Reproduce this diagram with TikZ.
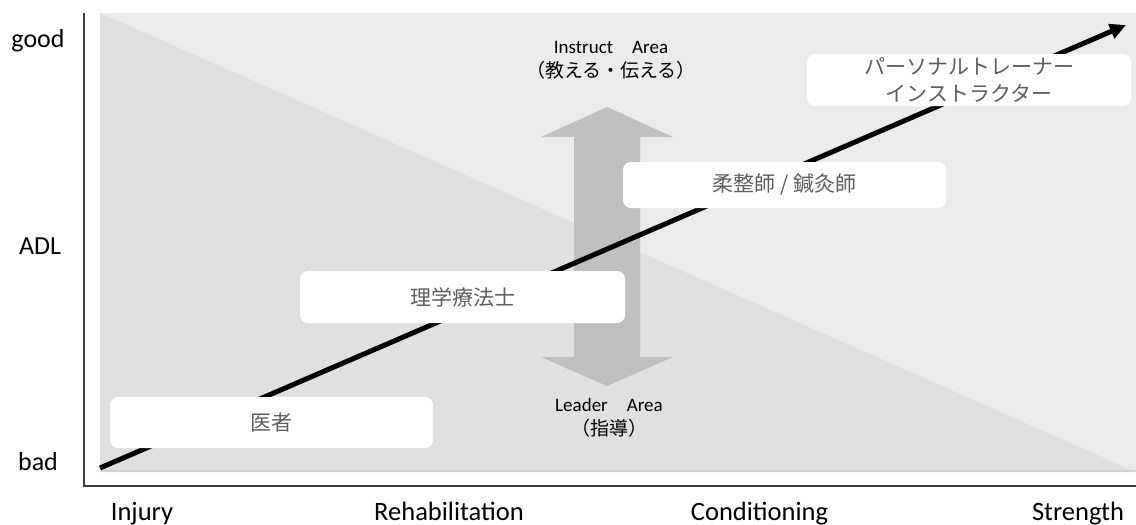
\documentclass[tikz,border=0pt]{standalone}
\usepackage{fontspec}
\setmainfont{Carlito}
\newfontfamily\jp{Noto Sans CJK JP}
\usetikzlibrary{arrows.meta}
\definecolor{panelhi}{HTML}{EBEBEB}
\definecolor{panello}{HTML}{E0E0E0}
\definecolor{panelline}{HTML}{D2D2D2}
\definecolor{axisgray}{HTML}{3C3C3C}
\definecolor{shaftgray}{HTML}{C0C0C0}
\definecolor{boxtext}{HTML}{5E5E5E}
\begin{document}
\begin{tikzpicture}[x=1pt,y=-1pt,
  axislabel/.style={font=\fontsize{26}{29}\selectfont, text=black, inner sep=0pt},
  xlabel/.style={axislabel, font=\fontsize{26.5}{29}\selectfont, anchor=base},
  arealabel/.style={font=\fontsize{19}{24}\selectfont, text=black, align=center, inner sep=0pt},
  rolebox/.style={fill=white, rounded corners=8pt, draw=none, align=center,
    text=boxtext, font=\jp\fontsize{21}{27}\selectfont, inner sep=0pt}]
  \useasboundingbox (0,0) rectangle (1136,525);
  \fill[white] (0,0) rectangle (1136,525);

  % shaded panel split along its diagonal
  \fill[panelhi] (100,13) rectangle (1136,472);
  \fill[panello] (100,13) -- (1136,472) -- (100,472) -- cycle;
  \draw[panelline, line width=1.5pt] (100,471) -- (1136,471);

  % axes
  \coordinate (origin) at (84,486);
  \coordinate (ytop) at (84,13);
  \coordinate (xend) at (1136,486);
  \draw[axisgray, line width=2pt] (ytop) -- (origin) -- (xend);

  % axis labels
  \node[axislabel] (good) at (38,41) {good};
  \node[axislabel] (adl) at (40,246) {ADL};
  \node[axislabel] (bad) at (38,462) {bad};
  \node[xlabel] (injury) at (142,520) {Injury};
  \node[xlabel] (rehab) at (449,520) {Rehabilitation};
  \node[xlabel] (cond) at (759.5,520) {Conditioning};
  \node[xlabel] (strength) at (1078,520) {Strength};

  % vertical double arrow between the two areas
  \fill[shaftgray] (541,137) -- (607,107) -- (673,137) -- (640,137) -- (640,357)
    -- (673,357) -- (607,386) -- (541,357) -- (574,357) -- (574,137) -- cycle;

  % progression arrow
  \coordinate (pstart) at (100,468);
  \coordinate (pend) at (1126,25);
  \draw[black, line width=5pt, -{Triangle[length=16pt,width=15pt]}] (pstart) -- (pend);

  % roles
  \node[rolebox, minimum width=323pt, minimum height=51pt] (doctor) at (271.5,422.5) {医者};
  \node[rolebox, minimum width=325pt, minimum height=52pt] (pt) at (462.5,297) {理学療法士};
  \node[rolebox, minimum width=323pt, minimum height=46pt] (judo) at (784.5,185) {柔整師 / 鍼灸師};
  \node[rolebox, minimum width=324pt, minimum height=52pt] (trainer) at (969,80)
    {パーソナルトレーナー\\インストラクター};

  % area captions
  \node[arealabel] (instruct) at (611,60)
    {Instruct{\jp\fontsize{19}{24}\selectfont 　}Area\\{\jp（教える・伝える）}};
  \node[arealabel] (leader) at (609,418)
    {Leader{\jp\fontsize{19}{24}\selectfont 　}Area\\{\jp（指導）}};
\end{tikzpicture}
\end{document}
